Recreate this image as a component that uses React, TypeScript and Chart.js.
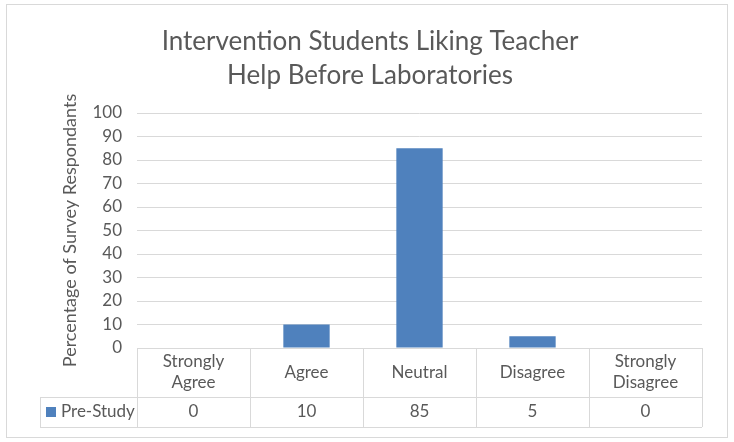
import React, { useEffect, useRef } from "react";
import { Chart, registerables } from "chart.js";

Chart.register(...registerables);

const titleLines = ["Intervention Students Liking Teacher", "Help Before Laboratories"];
const yAxisTitle = "Percentage of Survey Respondants";
const categories: (string | string[])[] = [["Strongly", "Agree"], "Agree", "Neutral", "Disagree", ["Strongly", "Disagree"]];
const seriesName = "Pre-Study";
const preStudy = [0, 10, 85, 5, 0];
const yTicksMax = 100;
const yStep = 10;

const FONT = "Lato, 'Noto Sans', sans-serif";
const TEXT = "#595959";
const LINE = "#d9d9d9";
const BAR = "#4f81bd";

const tablePlugin = {
  id: "dataTable",
  beforeDraw(chart: any) {
    const ctx = chart.ctx;
    ctx.save();
    ctx.fillStyle = "#ffffff";
    ctx.fillRect(0, 0, chart.width, chart.height);
    ctx.strokeStyle = LINE;
    ctx.lineWidth = 1;
    ctx.strokeRect(6.5, 4.5, 721, 433);
    ctx.restore();
  },
  afterDraw(chart: any) {
    const ctx = chart.ctx;
    const x = chart.scales.x;
    const area = chart.chartArea;
    const step = x.getPixelForValue(1) - x.getPixelForValue(0);
    const left = x.getPixelForValue(0) - step / 2;
    const right = x.getPixelForValue(categories.length - 1) + step / 2;
    const top = area.bottom;
    const headerBottom = top + 49;
    const bottom = headerBottom + 30;
    const legendLeft = 40;
    const px = (v: number) => Math.round(v) + 0.5;
    ctx.save();
    ctx.strokeStyle = LINE;
    ctx.lineWidth = 1;
    ctx.beginPath();
    ctx.moveTo(left, px(top));
    ctx.lineTo(right, px(top));
    ctx.moveTo(legendLeft, px(headerBottom));
    ctx.lineTo(right, px(headerBottom));
    ctx.moveTo(legendLeft, px(bottom));
    ctx.lineTo(right, px(bottom));
    ctx.moveTo(px(legendLeft), headerBottom);
    ctx.lineTo(px(legendLeft), bottom);
    for (let i = 0; i <= categories.length; i++) {
      const bx = px(left + i * step);
      ctx.moveTo(bx, top);
      ctx.lineTo(bx, bottom);
    }
    ctx.stroke();

    ctx.fillStyle = TEXT;
    ctx.font = `17px ${FONT}`;
    ctx.textAlign = "center";
    ctx.textBaseline = "middle";
    const headerMid = (top + headerBottom) / 2;
    const rowMid = (headerBottom + bottom) / 2;
    categories.forEach((c, i) => {
      const cx = x.getPixelForValue(i);
      const lines = Array.isArray(c) ? c : [c];
      const lh = 21;
      lines.forEach((ln, j) => {
        ctx.fillText(ln, cx, headerMid + (j - (lines.length - 1) / 2) * lh);
      });
      ctx.fillText(String(preStudy[i]), cx, rowMid);
    });
    // legend cell
    ctx.fillStyle = BAR;
    ctx.fillRect(46, Math.round(rowMid) - 5, 10, 10);
    ctx.fillStyle = TEXT;
    ctx.textAlign = "left";
    ctx.fillText(seriesName, 61, rowMid);
    ctx.restore();
  },
};

export default function App() {
  const ref = useRef<HTMLCanvasElement>(null);
  useEffect(() => {
    if (!ref.current) return;
    const chart = new Chart(ref.current, {
      type: "bar",
      data: {
        labels: categories as any,
        datasets: [
          {
            label: seriesName,
            data: preStudy,
            backgroundColor: BAR,
            borderWidth: 0,
            barPercentage: 0.41,
            categoryPercentage: 1,
          },
        ],
      },
      options: {
        animation: false,
        responsive: false,
        devicePixelRatio: 1,
        layout: { padding: { left: 38, right: 32, top: 0, bottom: 94 } },
        plugins: {
          legend: { display: false },
          tooltip: { enabled: false },
          title: {
            display: true,
            text: titleLines,
            color: TEXT,
            font: { family: FONT, size: 26, weight: "normal", lineHeight: 1.3 },
            padding: { top: 25, bottom: 20.4 },
          },
        },
        scales: {
          x: {
            type: "category",
            display: false,
          },
          y: {
            min: 0,
            max: yTicksMax,
            ticks: {
              stepSize: yStep,
              color: TEXT,
              font: { family: FONT, size: 17 },
              padding: 15,
            },
            grid: { color: LINE, drawTicks: false },
            border: { display: false },
            title: {
              display: true,
              text: yAxisTitle,
              color: TEXT,
              font: { family: FONT, size: 18 },
              padding: { top: 21, bottom: 0 },
            },
            afterFit(scale: any) {
              scale.width = 99;
            },
          },
        },
      },
      plugins: [tablePlugin],
    });
    return () => chart.destroy();
  }, []);
  return (
    <div style={{ position: "absolute", left: 0, top: 0, width: 734, height: 442 }}>
      <canvas ref={ref} width={734} height={442} />
    </div>
  );
}
